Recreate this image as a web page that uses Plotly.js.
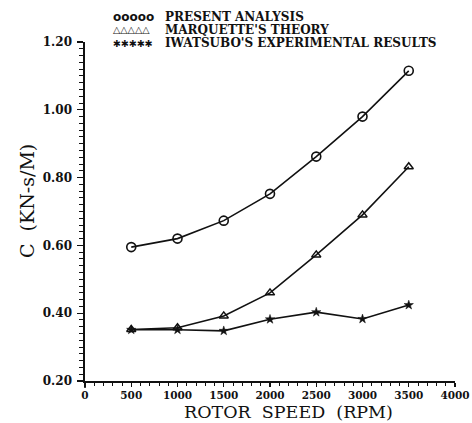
<!DOCTYPE html>
<html>
<head>
<meta charset="utf-8">
<script src="https://cdn.plot.ly/plotly-3.0.1.min.js"></script>
<style>html,body{margin:0;padding:0;background:#fff;}#chart{width:472px;height:423px;}</style>
</head>
<body>
<div id="chart"></div>
<script>
const rotorSpeed = [500, 1000, 1500, 2000, 2500, 3000, 3500];
const presentAnalysis = [0.595, 0.620, 0.673, 0.752, 0.862, 0.980, 1.115];
const marquetteTheory = [0.352, 0.357, 0.392, 0.460, 0.572, 0.690, 0.832];
const iwatsuboResults = [0.351, 0.351, 0.348, 0.382, 0.403, 0.383, 0.424];
const seriesNames = ["PRESENT ANALYSIS", "MARQUETTE'S THEORY", "IWATSUBO'S EXPERIMENTAL RESULTS"];
const legendGlyphs = ["ooooo", "\u25B3\u25B3\u25B3\u25B3\u25B3", "\u2731\u2731\u2731\u2731\u2731"];
const xTitle = "ROTOR&nbsp; SPEED&nbsp; (RPM)";
const yTitle = "C&nbsp; (KN-s/M)";

const serif = "DejaVu Serif, serif";
const line = {color: "#111", width: 1.6};

const traces = [
  {x: rotorSpeed, y: presentAnalysis, mode: "lines+markers", line: line,
   marker: {symbol: "circle-open", size: 9, color: "#111", line: {width: 1.6}}},
  {x: rotorSpeed, y: marquetteTheory, mode: "lines+markers", line: line,
   marker: {symbol: "triangle-up-open", size: 8, color: "#111", line: {width: 1.5}}},
  {x: rotorSpeed, y: iwatsuboResults, mode: "lines+markers", line: line,
   marker: {symbol: "star", size: 7, color: "#111", line: {width: 0.5, color: "#111"}}}
];

const W = 370, H = 339;
const annotations = [];
const rowY = [17, 30, 43];
seriesNames.forEach((name, i) => {
  annotations.push({xref: "paper", yref: "paper", x: (111 - 85) / W, y: 1 + (42 - rowY[i]) / H,
    xanchor: "left", yanchor: "middle", showarrow: false, text: "<b>" + legendGlyphs[i] + "</b>",
    font: {family: "DejaVu Sans", size: i === 0 ? 12 : 9.5, color: "#111"}});
  annotations.push({xref: "paper", yref: "paper", x: (163 - 85) / W, y: 1 + (42 - rowY[i]) / H,
    xanchor: "left", yanchor: "middle", showarrow: false, text: "<b>" + name + "</b>",
    font: {family: serif, size: 12, color: "#111"}});
});
annotations.push({xref: "paper", yref: "paper", x: (288 - 85) / W, y: -(412 - 381) / H,
  xanchor: "center", yanchor: "middle", showarrow: false, text: xTitle,
  font: {family: serif, size: 17.5, color: "#111"}});
annotations.push({xref: "paper", yref: "paper", x: -(85 - 27) / W, y: (381 - 201) / H,
  xanchor: "center", yanchor: "middle", showarrow: false, text: yTitle, textangle: -90,
  font: {family: serif, size: 19, color: "#111"}});

const layout = {
  width: 472, height: 423,
  margin: {l: 85, r: 17, t: 42, b: 42},
  paper_bgcolor: "#fff", plot_bgcolor: "#fff",
  showlegend: false,
  xaxis: {
    range: [0, 4000], tickmode: "linear", tick0: 0, dtick: 500,
    ticks: "outside", ticklen: 4, tickwidth: 1.3, tickcolor: "#111",
    minor: {dtick: 100, ticks: "outside", ticklen: 3, tickwidth: 1, tickcolor: "#111"},
    showline: true, linecolor: "#111", linewidth: 1.6, showgrid: false, zeroline: false,
    tickfont: {family: serif, size: 10.5, color: "#111", weight: "bold"}
  },
  yaxis: {
    range: [0.2, 1.2], tickmode: "linear", tick0: 0.2, dtick: 0.2, tickformat: ".2f",
    ticks: "outside", ticklen: 6, tickwidth: 1.3, tickcolor: "#111",
    minor: {dtick: 0.02, ticks: "outside", ticklen: 4, tickwidth: 1, tickcolor: "#111"},
    showline: true, linecolor: "#111", linewidth: 1.6, showgrid: false, zeroline: false,
    ticklabelstandoff: 3,
    tickfont: {family: serif, size: 12, color: "#111", weight: "bold"}
  },
  annotations: annotations,
  shapes: [
    {type: "line", xref: "paper", yref: "paper", x0: 0, x1: 0, y0: 0, y1: -7 / H, line: {color: "#111", width: 1.6}},
    {type: "line", xref: "paper", yref: "paper", x0: 0, x1: -6 / W, y0: 0, y1: 0, line: {color: "#111", width: 1.6}}
  ]
};

Plotly.newPlot("chart", traces, layout, {displayModeBar: false, staticPlot: true});
</script>
</body>
</html>
